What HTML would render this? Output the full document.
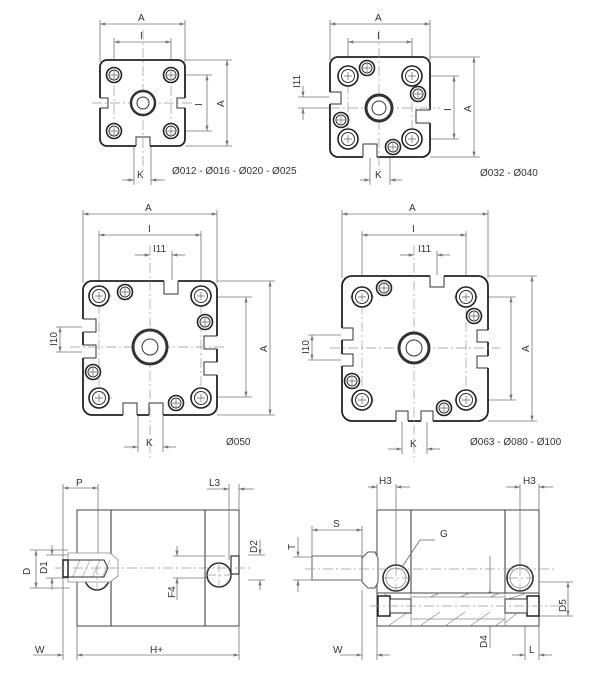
<!DOCTYPE html>
<html><head><meta charset="utf-8"><style>
html,body{margin:0;padding:0;background:#fff}
svg{display:block}
text{font-family:"Liberation Sans",sans-serif;font-size:10px;fill:#333}
.d{stroke:#777;stroke-width:.8;fill:none}
.c{stroke:#999;stroke-width:.7;fill:none;stroke-dasharray:10 3 2 3}
.t{stroke:#222;stroke-width:1.8;fill:#fff}
.m{stroke:#333;stroke-width:1;fill:none}
.h{stroke:#222;stroke-width:1.6;fill:#fff}
</style></head><body>
<svg width="600" height="679" viewBox="0 0 600 679" xmlns="http://www.w3.org/2000/svg">
<defs>
<marker id="a" viewBox="0 0 10 6" refX="10" refY="3" markerWidth="8" markerHeight="4" orient="auto-start-reverse"><path d="M0,0L10,3L0,6z" fill="#777"/></marker>
<g id="hb"><circle r="10" class="h"/><circle r="6.5" class="m" stroke="#666"/><path d="M-4,0H4M0,-4V4" stroke="#666" stroke-width=".7"/></g>
<g id="hs"><circle r="7.5" class="h"/><circle r="5" class="m" stroke="#666"/><path d="M-4,0H4M0,-4V4" stroke="#666" stroke-width=".7"/></g>
</defs>

<!-- ===== TOP LEFT Ø012-025 ===== -->
<g>
<path class="d" d="M100,20V62M185,20V62M114,38V75M171,38V75M185,60H232M185,146H232M171,75H212M171,131H212M134,146V185M151,146V185"/>
<line class="d" x1="100" y1="24" x2="185" y2="24" marker-start="url(#a)" marker-end="url(#a)"/>
<line class="d" x1="114" y1="42" x2="171" y2="42" marker-start="url(#a)" marker-end="url(#a)"/>
<line class="d" x1="227" y1="60" x2="227" y2="146" marker-start="url(#a)" marker-end="url(#a)"/>
<line class="d" x1="207" y1="75" x2="207" y2="131" marker-start="url(#a)" marker-end="url(#a)"/>
<path class="d" d="M122,180H134M151,180H165" /><line class="d" x1="126" y1="180" x2="134" y2="180" marker-end="url(#a)"/><line class="d" x1="160" y1="180" x2="151" y2="180" marker-end="url(#a)"/>
<rect x="100" y="60" width="85" height="86" rx="7" class="t"/>
<rect x="99" y="98" width="11" height="10" fill="#fff"/><path class="m" stroke-width="1.4" d="M100,98H108V108H100"/>
<rect x="175" y="98" width="11" height="10" fill="#fff"/><path class="m" stroke-width="1.4" d="M185,98H177V108H185"/>
<rect x="136" y="135" width="14" height="12" fill="#fff"/><path class="m" stroke-width="1.4" d="M136,146V137H150V146"/>
<path class="c" d="M92,103H192M143,30V175M114,68V138M171,68V138M106,75H122M163,75H179M106,131H122M163,131H179"/>
<circle cx="143" cy="103" r="12" fill="#fff" stroke="#333" stroke-width="2.5"/><circle cx="143" cy="103" r="6" class="m" stroke="#777" stroke-width="1.5"/>
<use href="#hs" x="114" y="75"/><use href="#hs" x="171" y="75"/><use href="#hs" x="114" y="131"/><use href="#hs" x="171" y="131"/>
<text x="138" y="21">A</text><text x="140" y="39">I</text><text x="202" y="106" transform="rotate(-90 202 106)">I</text><text x="224" y="107" transform="rotate(-90 224 107)">A</text><text x="137" y="178">K</text>
<text x="172" y="174">Ø012 - Ø016 - Ø020 - Ø025</text>
</g>

<!-- ===== TOP RIGHT Ø032-040 ===== -->
<g>
<path class="d" d="M330,20V60M430,20V60M348,38V76M412,38V76M430,57H480M430,157H480M412,76H459M412,139H459M370,157V185M390,157V185M298,97H338M298,108H330"/>
<line class="d" x1="330" y1="24" x2="430" y2="24" marker-start="url(#a)" marker-end="url(#a)"/>
<line class="d" x1="348" y1="42" x2="412" y2="42" marker-start="url(#a)" marker-end="url(#a)"/>
<line class="d" x1="474" y1="57" x2="474" y2="157" marker-start="url(#a)" marker-end="url(#a)"/>
<line class="d" x1="454" y1="76" x2="454" y2="139" marker-start="url(#a)" marker-end="url(#a)"/>
<line class="d" x1="303" y1="86" x2="303" y2="97" marker-end="url(#a)"/><line class="d" x1="303" y1="120" x2="303" y2="108" marker-end="url(#a)"/>
<line class="d" x1="360" y1="180" x2="370" y2="180" marker-end="url(#a)"/><line class="d" x1="402" y1="180" x2="390" y2="180" marker-end="url(#a)"/>
<rect x="330" y="57" width="100" height="100" rx="8" class="t"/>
<rect x="329" y="92" width="13" height="12" fill="#fff"/><path class="m" stroke-width="1.4" d="M330,92H341V104H330"/>
<rect x="417" y="110" width="14" height="13" fill="#fff"/><path class="m" stroke-width="1.4" d="M430,110H416V123H430"/>
<rect x="363" y="143" width="14" height="15" fill="#fff"/><path class="m" stroke-width="1.4" d="M363,157V144H377V157"/>
<path class="c" d="M312,108H440M379,30V170M348,66V148M412,66V148M338,76H358M402,76H422M338,139H358M402,139H422"/>
<circle cx="379" cy="108" r="13" fill="#fff" stroke="#333" stroke-width="3"/><circle cx="379" cy="108" r="7" class="m" stroke="#555" stroke-width="2"/>
<use href="#hb" x="348" y="76"/><use href="#hb" x="412" y="76"/><use href="#hb" x="348" y="139"/><use href="#hb" x="412" y="139"/>
<use href="#hs" x="367" y="68"/><use href="#hs" x="418" y="94"/><use href="#hs" x="341" y="120"/><use href="#hs" x="393" y="147"/>
<text x="375" y="21">A</text><text x="377" y="39">I</text><text x="300" y="88" transform="rotate(-90 300 88)" font-size="9">I11</text>
<text x="451" y="111" transform="rotate(-90 451 111)">I</text><text x="471" y="112" transform="rotate(-90 471 112)">A</text><text x="375" y="178">K</text>
<text x="480" y="176">Ø032 - Ø040</text>
</g>

<!-- ===== MIDDLE LEFT Ø050 ===== -->
<g>
<path class="d" d="M83,210V283M217,210V283M99,231V297M201,231V297M172,251V282M217,281H275M217,415H275M201,297H252M201,397H252M138,347V452M163,347V452M56,327H92M56,352H92"/>
<line class="d" x1="83" y1="214" x2="217" y2="214" marker-start="url(#a)" marker-end="url(#a)"/>
<line class="d" x1="99" y1="235" x2="201" y2="235" marker-start="url(#a)" marker-end="url(#a)"/>
<line class="d" x1="135" y1="255" x2="150" y2="255" marker-end="url(#a)"/><line class="d" x1="185" y1="255" x2="172" y2="255" marker-end="url(#a)"/>
<line class="d" x1="270" y1="281" x2="270" y2="415" marker-start="url(#a)" marker-end="url(#a)"/>
<line class="d" x1="246" y1="297" x2="246" y2="397" marker-start="url(#a)" marker-end="url(#a)"/>
<line class="d" x1="60" y1="327" x2="60" y2="352" marker-start="url(#a)" marker-end="url(#a)"/>
<line class="d" x1="124" y1="447" x2="138" y2="447" marker-end="url(#a)"/><line class="d" x1="176" y1="447" x2="163" y2="447" marker-end="url(#a)"/>
<rect x="83" y="281" width="134" height="134" rx="9" class="t"/>
<rect x="164" y="280" width="14" height="15" fill="#fff"/><path class="m" stroke-width="1.4" d="M164,281V294H178V281"/>
<rect x="82" y="319" width="15" height="13" fill="#fff"/><path class="m" stroke-width="1.4" d="M83,319H96V332H83"/>
<rect x="82" y="345" width="15" height="13" fill="#fff"/><path class="m" stroke-width="1.4" d="M83,345H96V358H83"/>
<rect x="204" y="336" width="14" height="13" fill="#fff"/><path class="m" stroke-width="1.4" d="M217,336H204V349H217"/>
<rect x="204" y="362" width="14" height="13" fill="#fff"/><path class="m" stroke-width="1.4" d="M217,362H204V375H217"/>
<rect x="123" y="402" width="14" height="14" fill="#fff"/><path class="m" stroke-width="1.4" d="M123,415V403H137V415"/>
<rect x="149" y="402" width="14" height="14" fill="#fff"/><path class="m" stroke-width="1.4" d="M149,415V403H163V415"/>
<path class="c" d="M70,347H225M150,245V460M99,286V408M201,286V408M88,296H112M190,296H212M88,398H112M190,398H212"/>
<circle cx="150" cy="347" r="17" fill="#fff" stroke="#333" stroke-width="3"/><circle cx="150" cy="347" r="8" class="m" stroke="#777" stroke-width="1.2"/>
<use href="#hb" x="99" y="296"/><use href="#hb" x="201" y="296"/><use href="#hb" x="99" y="398"/><use href="#hb" x="201" y="398"/>
<use href="#hs" x="125" y="292"/><use href="#hs" x="205" y="322"/><use href="#hs" x="93" y="372"/><use href="#hs" x="176" y="403"/>
<text x="145" y="211">A</text><text x="148" y="232">I</text><text x="153" y="252" font-size="9">I11</text>
<text x="57" y="346" transform="rotate(-90 57 346)" font-size="9">I10</text><text x="267" y="352" transform="rotate(-90 267 352)">A</text>
<text x="146" y="446">K</text><text x="226" y="445">Ø050</text>
</g>

<!-- ===== MIDDLE RIGHT Ø063-100 ===== -->
<g>
<path class="d" d="M342,210V278M488,210V278M362,231V297M466,231V297M437,251V280M488,276H537M488,421H537M466,297H516M466,400H516M402,348V454M427,348V454M308,335H350M308,360H350"/>
<line class="d" x1="342" y1="214" x2="488" y2="214" marker-start="url(#a)" marker-end="url(#a)"/>
<line class="d" x1="362" y1="235" x2="466" y2="235" marker-start="url(#a)" marker-end="url(#a)"/>
<line class="d" x1="400" y1="255" x2="414" y2="255" marker-end="url(#a)"/><line class="d" x1="450" y1="255" x2="437" y2="255" marker-end="url(#a)"/>
<line class="d" x1="532" y1="276" x2="532" y2="421" marker-start="url(#a)" marker-end="url(#a)"/>
<line class="d" x1="511" y1="297" x2="511" y2="400" marker-start="url(#a)" marker-end="url(#a)"/>
<line class="d" x1="312" y1="335" x2="312" y2="360" marker-start="url(#a)" marker-end="url(#a)"/>
<line class="d" x1="388" y1="449" x2="402" y2="449" marker-end="url(#a)"/><line class="d" x1="440" y1="449" x2="427" y2="449" marker-end="url(#a)"/>
<rect x="342" y="276" width="146" height="145" rx="10" class="t"/>
<rect x="430" y="275" width="14" height="13" fill="#fff"/><path class="m" stroke-width="1.4" d="M430,276V287H444V276"/>
<rect x="341" y="328" width="13" height="12" fill="#fff"/><path class="m" stroke-width="1.4" d="M342,328H353V340H342"/>
<rect x="341" y="354" width="13" height="12" fill="#fff"/><path class="m" stroke-width="1.4" d="M342,354H353V366H342"/>
<rect x="476" y="330" width="13" height="12" fill="#fff"/><path class="m" stroke-width="1.4" d="M488,330H477V342H488"/>
<rect x="476" y="356" width="13" height="12" fill="#fff"/><path class="m" stroke-width="1.4" d="M488,356H477V368H488"/>
<rect x="396" y="410" width="12" height="12" fill="#fff"/><path class="m" stroke-width="1.4" d="M396,421V411H408V421"/>
<rect x="421" y="410" width="12" height="12" fill="#fff"/><path class="m" stroke-width="1.4" d="M421,421V411H433V421"/>
<path class="c" d="M330,348H500M414,245V462M362,286V410M466,286V410M350,297H374M454,297H478M350,400H374M454,400H478"/>
<circle cx="414" cy="348" r="15" fill="#fff" stroke="#333" stroke-width="3"/><circle cx="414" cy="348" r="8" class="m" stroke="#777" stroke-width="1.2"/>
<use href="#hb" x="362" y="297"/><use href="#hb" x="466" y="297"/><use href="#hb" x="362" y="400"/><use href="#hb" x="466" y="400"/>
<use href="#hs" x="384" y="288"/><use href="#hs" x="474" y="316"/><use href="#hs" x="352" y="381"/><use href="#hs" x="444" y="408"/>
<text x="409" y="211">A</text><text x="412" y="232">I</text><text x="418" y="252" font-size="9">I11</text>
<text x="309" y="354" transform="rotate(-90 309 354)" font-size="9">I10</text><text x="529" y="352" transform="rotate(-90 529 352)">A</text>
<text x="410" y="447">K</text><text x="470" y="445">Ø063 - Ø080 - Ø100</text>
</g>

<!-- ===== BOTTOM LEFT SIDE VIEW ===== -->
<g>
<rect x="77" y="510" width="162" height="116" fill="none" stroke="#444" stroke-width="1"/>
<path class="m" stroke="#555" d="M111,510V626M205,510V626"/>
<path class="d" d="M63,484V660M98,484V570M229,484V560M239,484V510M239,626V660M77,626V660M30,550H68M30,588H70M46,555H68M46,578H68M173,556H225M173,578H225M248,555H265M248,580H265"/>
<line class="d" x1="63" y1="488" x2="98" y2="488" marker-start="url(#a)" marker-end="url(#a)"/>
<line class="d" x1="207" y1="489" x2="229" y2="489" marker-end="url(#a)"/><line class="d" x1="254" y1="489" x2="239" y2="489" marker-end="url(#a)"/>
<line class="d" x1="36" y1="550" x2="36" y2="588" marker-start="url(#a)" marker-end="url(#a)"/>
<line class="d" x1="52" y1="545" x2="52" y2="555" marker-end="url(#a)"/><line class="d" x1="52" y1="590" x2="52" y2="578" marker-end="url(#a)"/>
<line class="d" x1="177" y1="546" x2="177" y2="556" marker-end="url(#a)"/><line class="d" x1="177" y1="600" x2="177" y2="578" marker-end="url(#a)"/>
<line class="d" x1="260" y1="540" x2="260" y2="555" marker-end="url(#a)"/><line class="d" x1="260" y1="590" x2="260" y2="580" marker-end="url(#a)"/>
<line class="d" x1="33" y1="655" x2="63" y2="655" marker-end="url(#a)"/>
<line class="d" x1="77" y1="655" x2="239" y2="655" marker-start="url(#a)" marker-end="url(#a)"/>
<path d="M85,578A12,12 0 0 0 109,578" fill="#fff" stroke="#333" stroke-width="1.6"/>
<path d="M68,553H110L118,560V576L110,582H68Z" fill="#fff" stroke="#888" stroke-width=".8"/>
<path stroke="#999" stroke-width=".6" d="M72,578L80,560M82,578L90,560M92,578L100,560M102,578L110,560"/>
<rect x="63" y="560" width="5" height="17" fill="#fff" stroke="#222" stroke-width="1.5"/>
<path class="m" d="M68,560H104L108,568L104,577H68"/>
<circle cx="219" cy="575" r="12" fill="#fff" stroke="#333" stroke-width="1.6"/>
<rect x="231" y="556" width="8" height="18" fill="#fff" stroke="#333" stroke-width="1.2"/>
<path class="c" d="M55,568H250M97,565V590M219,562V588M206,575H232"/>
<text x="76" y="486">P</text><text x="209" y="486">L3</text>
<text x="30" y="575" transform="rotate(-90 30 575)">D</text><text x="47" y="574" transform="rotate(-90 47 574)" font-size="9">D1</text>
<text x="175" y="598" transform="rotate(-90 175 598)" font-size="9">F4</text><text x="257" y="553" transform="rotate(-90 257 553)" font-size="9">D2</text>
<text x="35" y="653">W</text><text x="150" y="653">H+</text>
</g>

<!-- ===== BOTTOM RIGHT SIDE VIEW ===== -->
<g>
<rect x="377" y="510" width="162" height="116" fill="none" stroke="#444" stroke-width="1"/>
<path class="m" stroke="#555" d="M411,510V593M505,510V593"/>
<path class="d" d="M377,484V510M396,484V570M520,484V570M539,484V510M312,526V556M362,526V560M362,590V660M377,626V660M293,557H318M293,580H318M539,582H573M539,616H573M525,616V660M539,626V660M490,556V648"/>
<line class="d" x1="368" y1="487" x2="377" y2="487" marker-end="url(#a)"/><line class="d" x1="410" y1="487" x2="396" y2="487" marker-end="url(#a)"/>
<line class="d" x1="506" y1="487" x2="520" y2="487" marker-end="url(#a)"/><line class="d" x1="553" y1="487" x2="539" y2="487" marker-end="url(#a)"/>
<line class="d" x1="312" y1="530" x2="362" y2="530" marker-start="url(#a)" marker-end="url(#a)"/>
<line class="d" x1="298" y1="537" x2="298" y2="557" marker-end="url(#a)"/><line class="d" x1="298" y1="592" x2="298" y2="580" marker-end="url(#a)"/>
<line class="d" x1="568" y1="582" x2="568" y2="616" marker-start="url(#a)" marker-end="url(#a)"/>
<line class="d" x1="340" y1="655" x2="362" y2="655" marker-end="url(#a)"/><line class="d" x1="390" y1="655" x2="377" y2="655" marker-end="url(#a)"/>
<line class="d" x1="512" y1="655" x2="525" y2="655" marker-end="url(#a)"/><line class="d" x1="552" y1="655" x2="539" y2="655" marker-end="url(#a)"/>
<line class="d" x1="490" y1="588" x2="490" y2="597" marker-end="url(#a)"/><line class="d" x1="490" y1="628" x2="490" y2="619" marker-end="url(#a)"/>
<rect x="377" y="593" width="162" height="33" fill="#fff" stroke="#444" stroke-width="1"/>
<path stroke="#888" stroke-width=".7" fill="none" d="M411,597H505M411,619H505M411,593V626M505,593V626M383,593L411,612M388,626L411,610M420,626L440,612M445,626L465,612M470,626L490,612M495,626L505,619M430,597L440,593M460,597L470,593M490,597L500,593M505,600L527,593M505,623L527,605"/>
<rect x="378" y="596" width="12" height="20" fill="#fff" stroke="#222" stroke-width="1.5"/>
<rect x="390" y="599" width="21" height="14" fill="#fff" stroke="#333" stroke-width="1"/>
<rect x="527" y="596" width="12" height="20" fill="#fff" stroke="#222" stroke-width="1.5"/>
<rect x="505" y="599" width="22" height="14" fill="#fff" stroke="#333" stroke-width="1"/>
<rect x="312" y="556" width="50" height="24" fill="#fff" stroke="#666" stroke-width="1"/>
<path d="M362,558L368,552H375L378,558V582L375,588H368L362,582Z" fill="#fff" stroke="#555" stroke-width="1"/>
<circle cx="396" cy="578" r="13" fill="#fff" stroke="#333" stroke-width="1.6"/><circle cx="396" cy="578" r="10" fill="none" stroke="#888" stroke-width=".8"/>
<circle cx="520" cy="578" r="13" fill="#fff" stroke="#333" stroke-width="1.6"/><circle cx="520" cy="578" r="10" fill="none" stroke="#888" stroke-width=".8"/>
<path class="c" d="M305,569H555M370,606H560M396,566V590M520,566V590M384,578H408M508,578H532"/>
<path stroke="#666" stroke-width=".8" fill="none" d="M435,540H420L402,567"/>
<text x="379" y="484">H3</text><text x="523" y="484">H3</text><text x="333" y="527">S</text><text x="440" y="537">G</text>
<text x="295" y="550" transform="rotate(-90 295 550)">T</text><text x="566" y="612" transform="rotate(-90 566 612)" font-size="9">D5</text>
<text x="487" y="648" transform="rotate(-90 487 648)" font-size="9">D4</text>
<text x="333" y="653">W</text><text x="529" y="653">L</text>
</g>
</svg>
</body></html>
